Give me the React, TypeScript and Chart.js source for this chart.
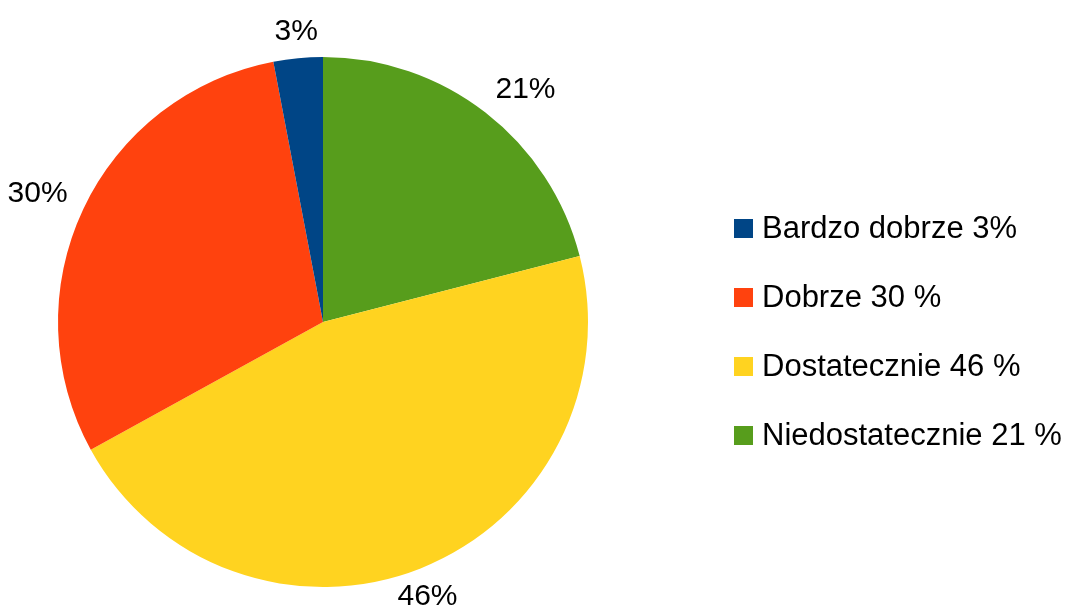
import React, { useEffect, useRef } from 'react';
import { Chart, registerables } from 'chart.js';

Chart.register(...registerables);

// Legend order (top to bottom)
const categories = ['Bardzo dobrze 3%', 'Dobrze 30 %', 'Dostatecznie 46 %', 'Niedostatecznie 21 %'];
const values = [3, 30, 46, 21];
const sliceLabels = ['3%', '30%', '46%', '21%'];
const colors = ['#004586', '#ff420e', '#ffd320', '#579d1c'];

const FONT = '"Liberation Sans", Arial, sans-serif';

// The pie is drawn counter-clockwise in the original, so the dataset is reversed
const order = [3, 2, 1, 0];

const outsideLabels = {
  id: 'outsideLabels',
  afterDatasetsDraw(chart: any) {
    const ctx = chart.ctx;
    const meta = chart.getDatasetMeta(0);
    ctx.save();
    ctx.font = `30px ${FONT}`;
    ctx.fillStyle = '#000000';
    ctx.textAlign = 'left';
    ctx.textBaseline = 'alphabetic';
    meta.data.forEach((arc: any, i: number) => {
      const p = arc.getProps(['x', 'y', 'startAngle', 'endAngle', 'outerRadius'], true);
      const mid = (p.startAngle + p.endAngle) / 2;
      const ux = Math.cos(mid);
      const uy = Math.sin(mid);
      const text = sliceLabels[order[i]];
      const m = ctx.measureText(text);
      const w = m.actualBoundingBoxRight + m.actualBoundingBoxLeft;
      const asc = m.actualBoundingBoxAscent;
      const d = p.outerRadius + 18;
      const ax = p.x + ux * d;
      const ay = p.y + uy * d;
      const lim = 0.38;
      let left: number;
      if (ux > lim) left = ax;
      else if (ux < -lim) left = ax - w;
      else left = ax - w / 2;
      let baseline: number;
      if (uy < -lim) baseline = ay; // box bottom at anchor
      else if (uy > lim) baseline = ay + asc; // box top at anchor
      else baseline = ay + asc / 2;
      ctx.fillText(text, left + m.actualBoundingBoxLeft, baseline);
    });
    ctx.restore();
  },
};

const sideLegend = {
  id: 'sideLegend',
  afterDraw(chart: any) {
    const ctx = chart.ctx;
    const area = chart.chartArea;
    const cy = (area.top + area.bottom) / 2;
    const rowGap = 69;
    const x0 = area.right + 146;
    ctx.save();
    ctx.font = `31px ${FONT}`;
    ctx.textAlign = 'left';
    ctx.textBaseline = 'middle';
    categories.forEach((label, i) => {
      const rowY = cy + 10 + (i - 1.5) * rowGap;
      ctx.fillStyle = colors[i];
      ctx.fillRect(x0, rowY - 9.5, 19, 19);
      ctx.fillStyle = '#000000';
      ctx.fillText(label, x0 + 28, rowY + 1);
    });
    ctx.restore();
  },
};

export default function App() {
  const ref = useRef<HTMLCanvasElement>(null);
  useEffect(() => {
    if (!ref.current) return;
    const chart = new Chart(ref.current, {
      type: 'pie',
      data: {
        labels: order.map((k) => categories[k]),
        datasets: [
          {
            data: order.map((k) => values[k]),
            backgroundColor: order.map((k) => colors[k]),
            borderWidth: 0,
          },
        ],
      },
      options: {
        responsive: false,
        animation: false,
        layout: { padding: { left: 58, top: 57, right: 477, bottom: 26 } },
        plugins: {
          legend: { display: false },
          tooltip: { enabled: false },
        },
      },
      plugins: [outsideLabels, sideLegend],
    });
    return () => chart.destroy();
  }, []);
  return (
    <div style={{ position: 'absolute', left: 0, top: 0, width: 1065, height: 613, background: '#ffffff' }}>
      <canvas ref={ref} width={1065} height={613} />
    </div>
  );
}
